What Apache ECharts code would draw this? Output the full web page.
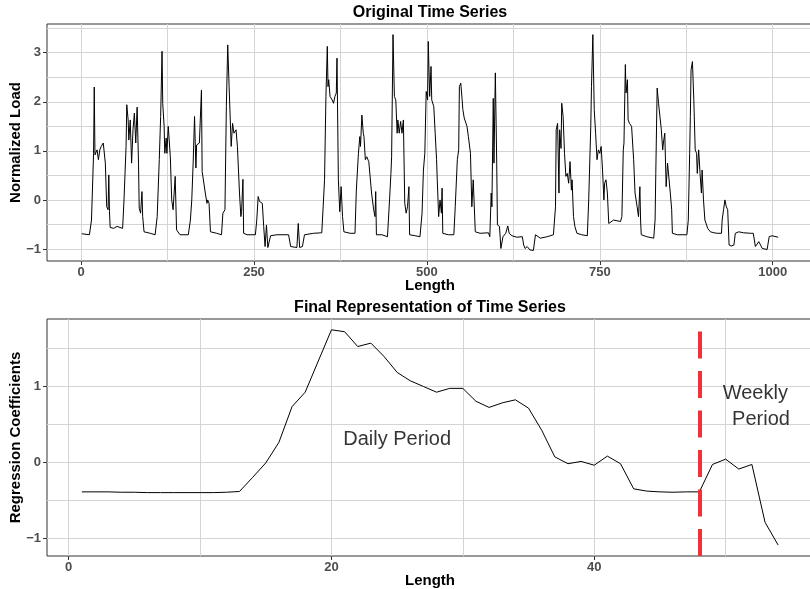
<!doctype html>
<html>
<head>
<meta charset="UTF-8">
<title>Time Series Representation</title>
<script src="https://cdn.jsdelivr.net/npm/echarts@6.0.0/dist/echarts.min.js"></script>
<style>
html,body{margin:0;padding:0;background:#fff;}
#main{width:810px;height:589px;}
</style>
</head>
<body>
<div id="main"></div>
<script>
var loadPoints = [
  [1,-0.69],[12,-0.71],[15,-0.41],[18,0.95],[19,2.30],[20,0.92],[23,1.02],[25,0.82],[27,1.02],[29,1.09],
  [32,1.16],[35,0.75],[37,-0.14],[39,-0.20],[40,0.51],[41,-0.24],[42,-0.56],[47,-0.58],[52,-0.54],[60,-0.58],
  [62,0],[65,1.09],[66,1.94],[68,1.63],[69,1.22],[71,1.63],[73,0.75],[75,1.43],[77,1.77],[79,1.16],
  [81,1.89],[83,0.75],[84,-0.17],[86,-0.27],[88,0.17],[89,-0.34],[91,-0.65],[100,-0.68],[107,-0.71],
  [110,-0.34],[113,0.82],[115,1.70],[117,3.03],[118,1.97],[120,1.50],[121,0.95],[123,1.26],[124,0.95],
  [126,1.50],[129,0.88],[131,0],[133,-0.20],[134,-0.17],[136,0.48],[138,-0.61],[143,-0.71],[155,-0.71],
  [158,-0.41],[160,0],[162,0.75],[164,1.70],[166,0.65],[167,1.12],[171,1.16],[174,2.24],[175,0.58],
  [177,0.58],[180,0.10],[182,-0.07],[183,0],[185,-0.07],[187,-0.65],[196,-0.68],[203,-0.71],
  [205,-0.27],[208,-0.20],[210,1.90],[212,3.16],[214,2.31],[217,1.09],[219,1.56],[221,1.36],[224,1.43],
  [226,1.09],[229,0.14],[231,-0.34],[232,-0.24],[234,0.42],[235,-0.68],[240,-0.71],[252,-0.71],
  [254,-0.41],[256,0.07],[258,-0.03],[260,0],[262,-0.07],[264,-0.54],[266,-0.95],[268,-0.51],[270,-0.97],
  [272,-0.99],[274,-0.73],[283,-0.71],[300,-0.71],[303,-0.95],[312,-0.97],[314,-0.48],[316,-0.97],
  [320,-0.95],[323,-0.71],[336,-0.68],[348,-0.67],
  [350,-0.14],[352,0.41],[354,2.11],[356,3.13],[357,2.31],[358,2.45],[360,2.11],[363,2.04],[365,1.97],
  [367,2.11],[369,2.18],[370,2.89],[372,0.41],[374,-0.24],[376,0.27],[378,-0.34],[380,-0.65],[389,-0.68],
  [396,-0.68],[398,0.20],[401,0.95],[403,1.29],[404,1.09],[406,1.73],[408,1.36],[409,1.29],[411,0.82],
  [413,0.88],[416,0.78],[418,0.75],[420,0.14],[423,-0.20],[425,-0.34],[426,0.17],[427,-0.71],[435,-0.71],
  [443,-0.75],[446,0],[448,0.54],[449,0.88],[451,3.37],[453,2.11],[455,2.04],[457,1.36],[458,1.63],
  [460,1.36],[462,1.60],[464,1.36],[466,1.63],[468,-0.07],[470,-0.27],[472,-0.14],[474,0.27],[475,-0.71],
  [483,-0.73],[490,-0.75],[493,-0.27],[495,0.61],[497,0.95],[499,2.21],[501,2.04],[502,3.23],[504,2.11],
  [506,2.72],[507,2.04],[510,1.90],[512,1.36],[514,0.82],[515,0.41],[517,-0.34],[519,0],[521,-0.27],
  [522,0.24],[523,-0.68],[531,-0.71],[539,-0.71],[541,-0.14],[544,0.82],[546,1.02],[547,2.31],[549,2.38],
  [551,2.04],[552,1.84],[554,1.67],[556,1.63],[558,1.50],[560,1.29],[563,0.95],[565,-0.14],[567,0.41],
  [570,-0.65],[577,-0.68],[589,-0.67],[591,-0.75],[593,0.14],[594,-0.14],[596,2.07],[597,0.75],[599,2.59],
  [601,0.75],[602,-0.51],[605,-0.54],[607,-0.99],[610,-0.75],[612,-0.71],[614,-0.68],[617,-0.53],
  [619,-0.68],[623,-0.73],[630,-0.76],[638,-0.75],[640,-0.92],[642,-0.99],[645,-0.95],[649,-1.02],
  [654,-1.03],[657,-0.71],[664,-0.78],[674,-0.75],[683,-0.71],
  [686,-0.14],[687,1.43],[689,1.56],[691,0.14],[692,1.43],[694,1.05],[695,1.97],[697,1.70],[699,0.95],
  [701,0.48],[703,0.54],[705,0.34],[707,0.78],[709,0.20],[710,0.41],[712,-0.34],[714,-0.54],[717,-0.68],
  [724,-0.71],[732,-0.73],[734,0],[737,1.50],[738,2.31],[740,3.37],[742,1.84],[744,1.36],[746,0.82],
  [748,1.02],[750,0.95],[752,1.09],[754,0.61],[756,0],[757,0.34],[759,0.41],[761,0.14],[763,-0.48],
  [765,-0.44],[770,-0.41],[780,-0.44],[782,-0.34],[784,1.02],[785,1.16],[787,2.76],[788,2.18],[790,2.45],
  [791,1.63],[793,1.56],[796,1.50],[799,0.82],[801,0.14],[804,-0.14],[806,-0.34],[808,0.27],[809,-0.41],
  [810,-0.71],[818,-0.75],[828,-0.78],[830,-0.41],[831,0.54],[833,2.28],[835,1.97],[837,1.97],[839,1.43],
  [841,1.02],[842,1.16],[844,1.36],[846,0.27],[848,0.75],[850,0.78],[852,0.14],[854,-0.20],[855,-0.68],
  [862,-0.71],[876,-0.71],[878,-0.41],[880,0.95],[881,1.70],[882,2.65],[884,2.82],[886,2.04],[888,1.02],
  [890,0.95],[891,0.54],[893,1.02],[895,0.54],[897,0.14],[898,0.61],[900,0],[902,-0.41],[904,-0.49],
  [906,-0.58],[908,-0.54],[910,-0.65],[915,-0.67],[920,-0.68],[926,-0.68],[927,-0.41],[929,-0.20],
  [931,0],[933,-0.14],[935,-0.20],[937,-0.92],[940,-0.94],[944,-0.92],[946,-0.68],[951,-0.65],
  [958,-0.67],[968,-0.68],[972,-0.68],[975,-0.95],[977,-0.99],[980,-0.85],[982,-0.82],[985,-0.99],
  [987,-1.01],[992,-1.01],[995,-0.75],[999,-0.73],[1008,-0.76]
];

// bottom panel: regression coefficient for each index 1..54
var coefValues = [
  -0.39,-0.39,-0.39,-0.395,-0.395,-0.40,-0.40,-0.40,-0.40,-0.40,
  -0.40,-0.395,-0.385,-0.20,-0.01,0.26,0.73,0.92,1.33,1.74,
  1.715,1.52,1.565,1.39,1.18,1.07,0.995,0.92,0.97,0.97,
  0.80,0.72,0.78,0.82,0.71,0.42,0.07,-0.02,0.01,-0.04,
  0.08,-0.02,-0.35,-0.38,-0.39,-0.395,-0.39,-0.39,-0.03,0.04,
  -0.09,-0.03,-0.79,-1.09
];
var breakAt = 48;
var notes = [[25, 0.30, 'Daily Period'], [52.26, 0.905, 'Weekly'], [52.69, 0.557, 'Period']];

// tick labels (major) and minor grid lines
var topXTicks = [0, 250, 500, 750, 1000], topXMinor = [125, 375, 625, 875];
var topYTicks = [-1, 0, 1, 2, 3], topYMinor = [-0.5, 0.5, 1.5, 2.5, 3.5];
var botXTicks = [0, 20, 40], botXMinor = [10, 30, 50];
var botYTicks = [-1, 0, 1], botYMinor = [-0.5, 0.5, 1.5];

var font = '"Liberation Sans", Arial, Helvetica, sans-serif';

function minus(v) { return String(v).replace('-', '\u2212'); }

// two stacked axes per side: one carries grid lines + title, one carries ticks + labels
function axisPair(dim, gi, min, max, major, minor, name, nameGap, labelMargin) {
  var all = major.concat(minor).sort(function (a, b) { return a - b; });
  var pos = dim === 'x' ? 'bottom' : 'left';
  var lines = {
    type: 'value', gridIndex: gi, position: pos, min: min, max: max,
    axisLine: { show: false, onZero: false },
    axisTick: { show: false, customValues: all },
    axisLabel: { show: false },
    splitLine: { show: true, lineStyle: { color: '#d4d4d4', width: 1 } },
    name: name, nameLocation: 'middle', nameGap: nameGap,
    nameTextStyle: { fontFamily: font, fontWeight: 'bold', fontSize: 15, color: '#000' }
  };
  var ticks = {
    type: 'value', gridIndex: gi, position: pos, min: min, max: max,
    axisLine: { show: false, onZero: false },
    axisTick: { show: true, length: 4, lineStyle: { color: '#333', width: 1 }, customValues: major },
    axisLabel: {
      customValues: major, formatter: minus, margin: labelMargin,
      fontFamily: font, fontWeight: 'bold', fontSize: 13, color: '#4d4d4d'
    },
    splitLine: { show: false }
  };
  return [lines, ticks];
}

var xAxes = axisPair('x', 0, -49.35, 1058.35, topXTicks, topXMinor, 'Length', 17, 5)
  .concat(axisPair('x', 1, -1.65, 56.65, botXTicks, botXMinor, 'Length', 17, 5));
var yAxes = axisPair('y', 0, -1.245, 3.586, topYTicks, topYMinor, 'Normalized Load', 24, 6)
  .concat(axisPair('y', 1, -1.233, 1.882, botYTicks, botYMinor, 'Regression Coefficients', 24, 6));

var coefPoints = coefValues.map(function (v, i) { return [i + 1, v]; });

var chart = echarts.init(document.getElementById('main'), null, { renderer: 'canvas' });
chart.setOption({
  animation: false,
  backgroundColor: '#fff',
  title: [
    { text: 'Original Time Series', left: 430, top: 5, textAlign: 'center', padding: 0,
      textStyle: { fontFamily: font, fontWeight: 'bold', fontSize: 16, color: '#000' } },
    { text: 'Final Representation of Time Series', left: 430, top: 300, textAlign: 'center', padding: 0,
      textStyle: { fontFamily: font, fontWeight: 'bold', fontSize: 16, color: '#000' } }
  ],
  grid: [
    { left: 47, top: 24, width: 766, height: 237, show: true, borderColor: '#333', borderWidth: 1,
      outerBoundsMode: 'none', containLabel: false },
    { left: 47, top: 319, width: 766, height: 237, show: true, borderColor: '#333', borderWidth: 1,
      outerBoundsMode: 'none', containLabel: false }
  ],
  xAxis: xAxes,
  yAxis: yAxes,
  series: [
    {
      type: 'line', xAxisIndex: 0, yAxisIndex: 0, data: loadPoints,
      symbol: 'none', lineStyle: { color: '#000', width: 1 }, silent: true
    },
    {
      type: 'line', xAxisIndex: 2, yAxisIndex: 2, data: coefPoints,
      symbol: 'none', lineStyle: { color: '#000', width: 1 }, silent: true,
      markLine: {
        silent: true, symbol: 'none', label: { show: false },
        lineStyle: { color: '#ee3237', width: 4, type: [27, 12.5] },
        data: [{ xAxis: breakAt }]
      }
    },
    {
      type: 'scatter', xAxisIndex: 2, yAxisIndex: 2, silent: true,
      symbolSize: 1, itemStyle: { color: 'rgba(0,0,0,0)' },
      data: notes.map(function (n) { return { value: [n[0], n[1]], name: n[2] }; }),
      label: { show: true, position: 'inside', formatter: '{b}',
        fontFamily: font, fontSize: 20, color: '#000' }
    }
  ]
});
</script>
</body>
</html>
